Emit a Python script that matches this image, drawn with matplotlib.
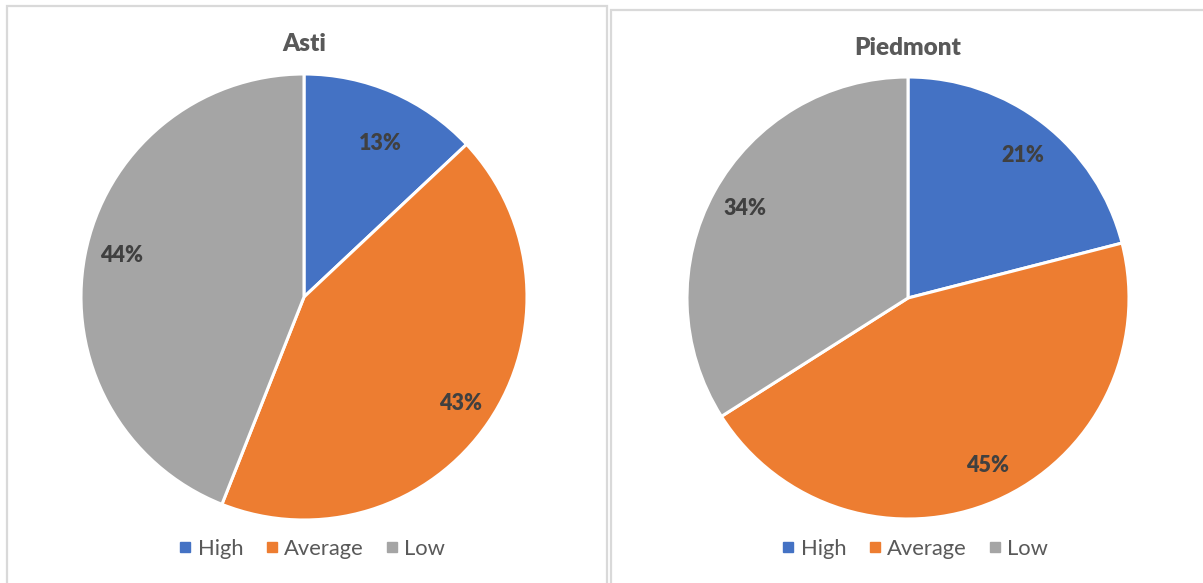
import matplotlib
matplotlib.use("Agg")
import matplotlib.pyplot as plt
from matplotlib.patches import Rectangle
from matplotlib.lines import Line2D
import numpy as np

categories = ["High", "Average", "Low"]
asti_values = [13, 43, 44]
piedmont_values = [21, 45, 34]
colors = ["#4472C4", "#ED7D31", "#A5A5A5"]

W, H = 1203, 583
fig = plt.figure(figsize=(W / 100, H / 100), dpi=100)
fig.patch.set_facecolor("white")

FONT = "Lato"
TXT = "#404040"
TITLE = "#595959"


def px_axes(cx, cy, r):
    return fig.add_axes([(cx - r) / W, (H - cy - r) / H, 2 * r / W, 2 * r / H])


def draw_pie(ax, values, title, label_pos, title_y):
    ax.pie(values, colors=colors, startangle=90, counterclock=False,
           wedgeprops=dict(edgecolor="white", linewidth=2.2))
    ax.set_xlim(-1.0, 1.0)
    ax.set_ylim(-1.0, 1.0)
    ax.set_axis_off()
    total = sum(values)
    cum = 0
    for v, (d, shift) in zip(values, label_pos):
        mid = 90 - (cum + v / 2) / total * 360 - shift
        cum += v
        a = np.radians(mid)
        ax.text(d * np.cos(a), d * np.sin(a), f"{v}%", ha="center", va="center",
                fontsize=15.5, fontweight="heavy", color=TXT, family=FONT)
    ax.text(0, title_y, title, ha="center", va="center", fontsize=17.5,
            fontweight="heavy", color=TITLE, family=FONT, clip_on=False)


# panel frames
fig.patches.append(Rectangle((6.5 / W, -0.05), (607 - 6.5) / W, (H - 5.5) / H + 0.05,
                             transform=fig.transFigure, fill=False,
                             edgecolor="#D9D9D9", linewidth=1.6))
fig.patches.append(Rectangle((610.5 / W, -0.05), 0.6, (H - 9.5) / H + 0.05,
                             transform=fig.transFigure, fill=False,
                             edgecolor="#D9D9D9", linewidth=1.6))

ax1 = px_axes(304, 297, 223)
draw_pie(ax1, asti_values, "Asti", [(0.77, 3), (0.85, 0), (0.84, 2)], 1.135)

ax2 = px_axes(908, 298, 221)
draw_pie(ax2, piedmont_values, "Piedmont", [(0.83, 1), (0.84, -2), (0.84, 0)], 1.13)

handles = [Line2D([], [], marker="s", linestyle="none", markersize=7,
                  markerfacecolor=c, markeredgecolor=c) for c in colors]
for cx in (313, 916):
    fig.legend(handles, categories, loc="center", bbox_to_anchor=(cx / W, (H - 549) / H),
               ncol=3, frameon=False, handlelength=0.4, handletextpad=0.35,
               columnspacing=1.1, prop=dict(family=FONT, size=15.8),
               labelcolor=TITLE)

fig.savefig("out.png", dpi=100, facecolor="white")
